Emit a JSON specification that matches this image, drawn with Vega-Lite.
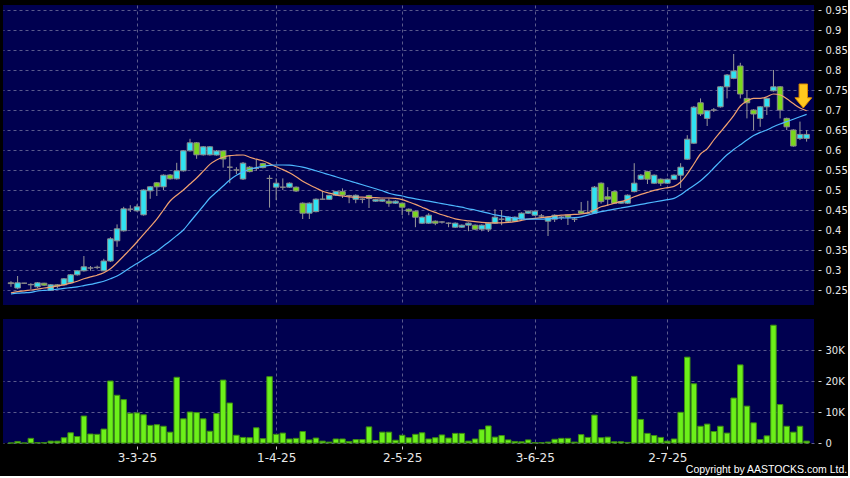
{
"$schema":"https://vega.github.io/schema/vega-lite/v6.json",
"background":"#000000",
"padding":{"left":3,"top":5,"right":0,"bottom":0},
"spacing":14,
"config":{"view":{"fill":"#000050","stroke":null},"axis":{"labelFont":"DejaVu Sans","labelColor":"#e8e8e8","gridColor":"#5a5a8c","gridDash":[3,3],"gridWidth":1,"domain":false,"tickColor":"#cccccc","title":null,"labelOverlap":false}},
"datasets":{
"k":[
{"i":0,"o":0.268,"c":0.266,"h":0.272,"l":0.258,"v":0,"m1":0.243,"m2":0.240},
{"i":1,"o":0.255,"c":0.268,"h":0.285,"l":0.252,"v":500,"m1":0.246,"m2":0.242},
{"i":2,"o":0.267,"c":0.267,"h":0.268,"l":0.266,"v":0,"m1":0.248,"m2":0.243},
{"i":3,"o":0.263,"c":0.264,"h":0.267,"l":0.252,"v":1500,"m1":0.250,"m2":0.244},
{"i":4,"o":0.258,"c":0.268,"h":0.270,"l":0.255,"v":100,"m1":0.252,"m2":0.2475},
{"i":5,"o":0.267,"c":0.262,"h":0.268,"l":0.260,"v":100,"m1":0.255,"m2":0.249},
{"i":6,"o":0.249,"c":0.263,"h":0.265,"l":0.248,"v":600,"m1":0.257,"m2":0.250},
{"i":7,"o":0.263,"c":0.260,"h":0.265,"l":0.255,"v":600,"m1":0.260,"m2":0.252},
{"i":8,"o":0.263,"c":0.278,"h":0.280,"l":0.262,"v":1700,"m1":0.263,"m2":0.254},
{"i":9,"o":0.268,"c":0.288,"h":0.290,"l":0.266,"v":3300,"m1":0.267,"m2":0.256},
{"i":10,"o":0.288,"c":0.298,"h":0.300,"l":0.286,"v":2100,"m1":0.272,"m2":0.258},
{"i":11,"o":0.298,"c":0.308,"h":0.335,"l":0.296,"v":8700,"m1":0.278,"m2":0.261},
{"i":12,"o":0.305,"c":0.305,"h":0.310,"l":0.298,"v":2900,"m1":0.283,"m2":0.264},
{"i":13,"o":0.306,"c":0.307,"h":0.311,"l":0.302,"v":2800,"m1":0.287,"m2":0.268},
{"i":14,"o":0.298,"c":0.3225,"h":0.328,"l":0.297,"v":4500,"m1":0.293,"m2":0.272},
{"i":15,"o":0.3225,"c":0.378,"h":0.382,"l":0.320,"v":20000,"m1":0.303,"m2":0.278},
{"i":16,"o":0.373,"c":0.403,"h":0.414,"l":0.358,"v":15400,"m1":0.318,"m2":0.285},
{"i":17,"o":0.398,"c":0.453,"h":0.458,"l":0.396,"v":14000,"m1":0.335,"m2":0.295},
{"i":18,"o":0.452,"c":0.452,"h":0.462,"l":0.445,"v":9600,"m1":0.352,"m2":0.306},
{"i":19,"o":0.448,"c":0.458,"h":0.464,"l":0.446,"v":9700,"m1":0.370,"m2":0.316},
{"i":20,"o":0.438,"c":0.500,"h":0.502,"l":0.436,"v":9100,"m1":0.389,"m2":0.327},
{"i":21,"o":0.498,"c":0.508,"h":0.510,"l":0.478,"v":5700,"m1":0.408,"m2":0.337},
{"i":22,"o":0.518,"c":0.508,"h":0.520,"l":0.485,"v":5900,"m1":0.427,"m2":0.3475},
{"i":23,"o":0.508,"c":0.537,"h":0.539,"l":0.500,"v":5400,"m1":0.450,"m2":0.360},
{"i":24,"o":0.5375,"c":0.528,"h":0.540,"l":0.526,"v":3500,"m1":0.4725,"m2":0.3725},
{"i":25,"o":0.528,"c":0.548,"h":0.568,"l":0.526,"v":21200,"m1":0.487,"m2":0.386},
{"i":26,"o":0.548,"c":0.598,"h":0.600,"l":0.546,"v":7800,"m1":0.500,"m2":0.400},
{"i":27,"o":0.598,"c":0.618,"h":0.628,"l":0.596,"v":10000,"m1":0.515,"m2":0.420},
{"i":28,"o":0.618,"c":0.588,"h":0.620,"l":0.578,"v":9800,"m1":0.530,"m2":0.440},
{"i":29,"o":0.588,"c":0.608,"h":0.610,"l":0.586,"v":7800,"m1":0.547,"m2":0.460},
{"i":30,"o":0.588,"c":0.608,"h":0.610,"l":0.586,"v":3800,"m1":0.564,"m2":0.480},
{"i":31,"o":0.5875,"c":0.5975,"h":0.600,"l":0.586,"v":9500,"m1":0.575,"m2":0.495},
{"i":32,"o":0.5975,"c":0.5775,"h":0.600,"l":0.556,"v":20300,"m1":0.582,"m2":0.510},
{"i":33,"o":0.557,"c":0.557,"h":0.587,"l":0.517,"v":12900,"m1":0.586,"m2":0.525},
{"i":34,"o":0.550,"c":0.550,"h":0.557,"l":0.540,"v":2500,"m1":0.587,"m2":0.537},
{"i":35,"o":0.5275,"c":0.567,"h":0.570,"l":0.525,"v":1800,"m1":0.5875,"m2":0.545},
{"i":36,"o":0.557,"c":0.546,"h":0.560,"l":0.544,"v":1700,"m1":0.582,"m2":0.552},
{"i":37,"o":0.554,"c":0.554,"h":0.577,"l":0.548,"v":4900,"m1":0.577,"m2":0.556},
{"i":38,"o":0.566,"c":0.556,"h":0.568,"l":0.554,"v":1400,"m1":0.573,"m2":0.559},
{"i":39,"o":0.529,"c":0.529,"h":0.537,"l":0.456,"v":21400,"m1":0.566,"m2":0.5615},
{"i":40,"o":0.507,"c":0.517,"h":0.529,"l":0.475,"v":2800,"m1":0.558,"m2":0.5625},
{"i":41,"o":0.507,"c":0.507,"h":0.529,"l":0.500,"v":3200,"m1":0.551,"m2":0.5625},
{"i":42,"o":0.507,"c":0.517,"h":0.519,"l":0.505,"v":1300,"m1":0.543,"m2":0.562},
{"i":43,"o":0.507,"c":0.4975,"h":0.509,"l":0.495,"v":1500,"m1":0.533,"m2":0.560},
{"i":44,"o":0.467,"c":0.442,"h":0.469,"l":0.4275,"v":3700,"m1":0.522,"m2":0.557},
{"i":45,"o":0.442,"c":0.467,"h":0.469,"l":0.4275,"v":1000,"m1":0.513,"m2":0.553},
{"i":46,"o":0.446,"c":0.477,"h":0.479,"l":0.444,"v":1600,"m1":0.505,"m2":0.548},
{"i":47,"o":0.477,"c":0.477,"h":0.4975,"l":0.475,"v":600,"m1":0.497,"m2":0.543},
{"i":48,"o":0.4767,"c":0.4867,"h":0.488,"l":0.475,"v":300,"m1":0.492,"m2":0.538},
{"i":49,"o":0.487,"c":0.496,"h":0.498,"l":0.485,"v":1300,"m1":0.488,"m2":0.533},
{"i":50,"o":0.496,"c":0.487,"h":0.504,"l":0.480,"v":1300,"m1":0.485,"m2":0.528},
{"i":51,"o":0.486,"c":0.486,"h":0.488,"l":0.467,"v":500,"m1":0.483,"m2":0.523},
{"i":52,"o":0.4767,"c":0.4867,"h":0.489,"l":0.467,"v":1100,"m1":0.482,"m2":0.518},
{"i":53,"o":0.477,"c":0.477,"h":0.479,"l":0.467,"v":1100,"m1":0.482,"m2":0.513},
{"i":54,"o":0.486,"c":0.479,"h":0.488,"l":0.455,"v":5200,"m1":0.481,"m2":0.508},
{"i":55,"o":0.472,"c":0.476,"h":0.478,"l":0.470,"v":800,"m1":0.481,"m2":0.503},
{"i":56,"o":0.472,"c":0.476,"h":0.478,"l":0.470,"v":3500,"m1":0.480,"m2":0.498},
{"i":57,"o":0.472,"c":0.467,"h":0.4785,"l":0.458,"v":3500,"m1":0.480,"m2":0.492},
{"i":58,"o":0.467,"c":0.472,"h":0.474,"l":0.465,"v":900,"m1":0.479,"m2":0.488},
{"i":59,"o":0.467,"c":0.457,"h":0.469,"l":0.4375,"v":2500,"m1":0.476,"m2":0.485},
{"i":60,"o":0.452,"c":0.447,"h":0.454,"l":0.437,"v":1700,"m1":0.470,"m2":0.481},
{"i":61,"o":0.447,"c":0.432,"h":0.449,"l":0.407,"v":2800,"m1":0.464,"m2":0.478},
{"i":62,"o":0.417,"c":0.432,"h":0.434,"l":0.415,"v":3300,"m1":0.457,"m2":0.475},
{"i":63,"o":0.417,"c":0.437,"h":0.442,"l":0.415,"v":1300,"m1":0.450,"m2":0.472},
{"i":64,"o":0.422,"c":0.417,"h":0.424,"l":0.412,"v":1700,"m1":0.444,"m2":0.469},
{"i":65,"o":0.420,"c":0.420,"h":0.422,"l":0.416,"v":2600,"m1":0.438,"m2":0.466},
{"i":66,"o":0.417,"c":0.417,"h":0.419,"l":0.407,"v":1600,"m1":0.433,"m2":0.463},
{"i":67,"o":0.407,"c":0.417,"h":0.419,"l":0.405,"v":3100,"m1":0.428,"m2":0.460},
{"i":68,"o":0.407,"c":0.412,"h":0.414,"l":0.405,"v":3100,"m1":0.425,"m2":0.457},
{"i":69,"o":0.412,"c":0.417,"h":0.419,"l":0.397,"v":600,"m1":0.423,"m2":0.453},
{"i":70,"o":0.412,"c":0.402,"h":0.414,"l":0.400,"v":1300,"m1":0.421,"m2":0.450},
{"i":71,"o":0.402,"c":0.412,"h":0.414,"l":0.397,"v":4300,"m1":0.419,"m2":0.446},
{"i":72,"o":0.402,"c":0.417,"h":0.419,"l":0.395,"v":5500,"m1":0.418,"m2":0.442},
{"i":73,"o":0.417,"c":0.432,"h":0.452,"l":0.415,"v":1900,"m1":0.418,"m2":0.438},
{"i":74,"o":0.427,"c":0.427,"h":0.450,"l":0.412,"v":2400,"m1":0.418,"m2":0.435},
{"i":75,"o":0.422,"c":0.432,"h":0.434,"l":0.420,"v":1000,"m1":0.419,"m2":0.432},
{"i":76,"o":0.422,"c":0.432,"h":0.434,"l":0.420,"v":500,"m1":0.421,"m2":0.430},
{"i":77,"o":0.427,"c":0.442,"h":0.444,"l":0.425,"v":400,"m1":0.424,"m2":0.428},
{"i":78,"o":0.442,"c":0.447,"h":0.449,"l":0.440,"v":1000,"m1":0.427,"m2":0.427},
{"i":79,"o":0.437,"c":0.447,"h":0.449,"l":0.435,"v":100,"m1":0.429,"m2":0.427},
{"i":80,"o":0.435,"c":0.435,"h":0.440,"l":0.430,"v":100,"m1":0.431,"m2":0.427},
{"i":81,"o":0.422,"c":0.432,"h":0.434,"l":0.385,"v":300,"m1":0.433,"m2":0.428},
{"i":82,"o":0.427,"c":0.437,"h":0.439,"l":0.420,"v":1200,"m1":0.435,"m2":0.429},
{"i":83,"o":0.432,"c":0.432,"h":0.435,"l":0.425,"v":1500,"m1":0.437,"m2":0.430},
{"i":84,"o":0.437,"c":0.432,"h":0.439,"l":0.4125,"v":1500,"m1":0.438,"m2":0.430},
{"i":85,"o":0.427,"c":0.427,"h":0.430,"l":0.420,"v":300,"m1":0.439,"m2":0.431},
{"i":86,"o":0.447,"c":0.442,"h":0.470,"l":0.440,"v":2700,"m1":0.440,"m2":0.433},
{"i":87,"o":0.442,"c":0.442,"h":0.473,"l":0.440,"v":1800,"m1":0.443,"m2":0.437},
{"i":88,"o":0.442,"c":0.507,"h":0.510,"l":0.440,"v":9000,"m1":0.450,"m2":0.442},
{"i":89,"o":0.517,"c":0.471,"h":0.519,"l":0.466,"v":1700,"m1":0.458,"m2":0.446},
{"i":90,"o":0.483,"c":0.477,"h":0.507,"l":0.460,"v":1900,"m1":0.462,"m2":0.449},
{"i":91,"o":0.496,"c":0.467,"h":0.498,"l":0.465,"v":400,"m1":0.467,"m2":0.452},
{"i":92,"o":0.467,"c":0.471,"h":0.473,"l":0.465,"v":400,"m1":0.471,"m2":0.455},
{"i":93,"o":0.467,"c":0.487,"h":0.489,"l":0.465,"v":200,"m1":0.476,"m2":0.458},
{"i":94,"o":0.496,"c":0.517,"h":0.567,"l":0.494,"v":21500,"m1":0.483,"m2":0.461},
{"i":95,"o":0.527,"c":0.537,"h":0.540,"l":0.525,"v":7600,"m1":0.489,"m2":0.464},
{"i":96,"o":0.546,"c":0.527,"h":0.548,"l":0.515,"v":3100,"m1":0.494,"m2":0.467},
{"i":97,"o":0.517,"c":0.537,"h":0.539,"l":0.515,"v":2400,"m1":0.499,"m2":0.470},
{"i":98,"o":0.527,"c":0.517,"h":0.529,"l":0.510,"v":1800,"m1":0.503,"m2":0.473},
{"i":99,"o":0.517,"c":0.527,"h":0.529,"l":0.515,"v":600,"m1":0.506,"m2":0.476},
{"i":100,"o":0.527,"c":0.537,"h":0.539,"l":0.525,"v":1300,"m1":0.509,"m2":0.479},
{"i":101,"o":0.537,"c":0.557,"h":0.567,"l":0.505,"v":9900,"m1":0.520,"m2":0.488},
{"i":102,"o":0.577,"c":0.627,"h":0.637,"l":0.575,"v":27700,"m1":0.540,"m2":0.500},
{"i":103,"o":0.617,"c":0.707,"h":0.710,"l":0.615,"v":19100,"m1":0.565,"m2":0.511},
{"i":104,"o":0.718,"c":0.690,"h":0.729,"l":0.685,"v":5400,"m1":0.590,"m2":0.523},
{"i":105,"o":0.679,"c":0.698,"h":0.700,"l":0.660,"v":6100,"m1":0.603,"m2":0.538},
{"i":106,"o":0.700,"c":0.700,"h":0.705,"l":0.695,"v":3700,"m1":0.625,"m2":0.555},
{"i":107,"o":0.708,"c":0.758,"h":0.760,"l":0.706,"v":5400,"m1":0.645,"m2":0.572},
{"i":108,"o":0.758,"c":0.7875,"h":0.790,"l":0.729,"v":3200,"m1":0.665,"m2":0.588},
{"i":109,"o":0.779,"c":0.7975,"h":0.840,"l":0.777,"v":14500,"m1":0.686,"m2":0.601},
{"i":110,"o":0.810,"c":0.740,"h":0.818,"l":0.729,"v":25200,"m1":0.710,"m2":0.613},
{"i":111,"o":0.729,"c":0.718,"h":0.750,"l":0.679,"v":11900,"m1":0.722,"m2":0.625},
{"i":112,"o":0.700,"c":0.690,"h":0.702,"l":0.650,"v":6500,"m1":0.729,"m2":0.636},
{"i":113,"o":0.679,"c":0.708,"h":0.710,"l":0.658,"v":1100,"m1":0.729,"m2":0.644},
{"i":114,"o":0.708,"c":0.729,"h":0.731,"l":0.6875,"v":2300,"m1":0.733,"m2":0.650},
{"i":115,"o":0.748,"c":0.758,"h":0.800,"l":0.746,"v":38000,"m1":0.740,"m2":0.658},
{"i":116,"o":0.758,"c":0.700,"h":0.760,"l":0.679,"v":12400,"m1":0.738,"m2":0.665},
{"i":117,"o":0.679,"c":0.658,"h":0.681,"l":0.650,"v":5400,"m1":0.728,"m2":0.671},
{"i":118,"o":0.650,"c":0.610,"h":0.652,"l":0.608,"v":3500,"m1":0.716,"m2":0.677},
{"i":119,"o":0.629,"c":0.639,"h":0.671,"l":0.625,"v":5400,"m1":0.705,"m2":0.683},
{"i":120,"o":0.629,"c":0.639,"h":0.650,"l":0.621,"v":600,"m1":0.698,"m2":0.689}
],
"arrow":[{"i":119.5,"p":0.735}]
},
"title":{"text":"Copyright by AASTOCKS.com Ltd.","orient":"bottom","anchor":"end","frame":"bounds","color":"#ffffff","font":"Liberation Sans","fontSize":10.5,"fontWeight":"normal","offset":2},
"vconcat":[
{
"width":811,"height":300,
"layer":[
{"data":{"name":"k"},"mark":{"type":"rule","color":"#9a9a9a","strokeWidth":1},
"encoding":{
"x":{"field":"i","type":"quantitative","scale":{"domain":[-0.447,120.36],"nice":false,"zero":false},"axis":{"values":[19,40,59,79,99],"tickCount":10,"labels":false,"ticks":false,"grid":true,"orient":"bottom"}},
"y":{"field":"l","type":"quantitative","scale":{"domain":[0.2125,0.9625],"nice":false,"zero":false},"axis":{"orient":"right","values":[0.25,0.3,0.35,0.4,0.45,0.5,0.55,0.6,0.65,0.7,0.75,0.8,0.85,0.9,0.95],"tickCount":20,"format":".2~f","offset":4,"tickSize":3,"labelPadding":4,"labelFontSize":10,"grid":true,"labelOverlap":false}},
"y2":{"field":"h"}}},
{"data":{"name":"k"},"mark":{"type":"bar","width":5.5,"stroke":"#8c8c8c","strokeWidth":1},
"encoding":{
"x":{"field":"i","type":"quantitative"},
"y":{"field":"o","type":"quantitative"},
"y2":{"field":"c"},
"fill":{"condition":{"test":"datum.c > datum.o","value":"#30e2f2"},"value":"#7ad81c"}}},
{"data":{"name":"k"},"mark":{"type":"line","color":"#f0a070","strokeWidth":1.2,"interpolate":"monotone"},
"encoding":{"x":{"field":"i","type":"quantitative"},"y":{"field":"m1","type":"quantitative"}}},
{"data":{"name":"k"},"mark":{"type":"line","color":"#4db8ff","strokeWidth":1.2,"interpolate":"monotone"},
"encoding":{"x":{"field":"i","type":"quantitative"},"y":{"field":"m2","type":"quantitative"}}},
{"data":{"name":"arrow"},"mark":{"type":"point","shape":"M -0.35 -1 L 0.35 -1 L 0.35 0.15 L 0.7 0.15 L 0 1 L -0.7 0.15 L -0.35 0.15 Z","size":576,"filled":true,"fill":"#ffc81e","stroke":"#d98a00","strokeWidth":1,"opacity":1},
"encoding":{"x":{"field":"i","type":"quantitative"},"y":{"field":"p","type":"quantitative"}}}
]
},
{
"width":811,"height":124,
"data":{"name":"k"},
"mark":{"type":"bar","width":5.5,"fill":"#6cf01a","stroke":"#3c8c12","strokeWidth":1},
"encoding":{
"x":{"field":"i","type":"quantitative","scale":{"domain":[-0.447,120.36],"nice":false,"zero":false},"axis":{"values":[19,40,59,79,99],"tickCount":10,"labelExpr":"datum.value == 19 ? '3-3-25' : datum.value == 40 ? '1-4-25' : datum.value == 59 ? '2-5-25' : datum.value == 79 ? '3-6-25' : '2-7-25'","grid":true,"orient":"bottom","tickSize":3,"offset":3,"labelFontSize":12,"labelPadding":3}},
"y":{"field":"v","type":"quantitative","scale":{"domain":[0,40000],"nice":false},"axis":{"orient":"right","values":[0,10000,20000,30000],"tickCount":10,"labelExpr":"datum.value == 0 ? '0' : (datum.value/1000) + 'K'","offset":4,"tickSize":3,"labelPadding":4,"labelFontSize":10,"grid":true}}
}
}
]
}
